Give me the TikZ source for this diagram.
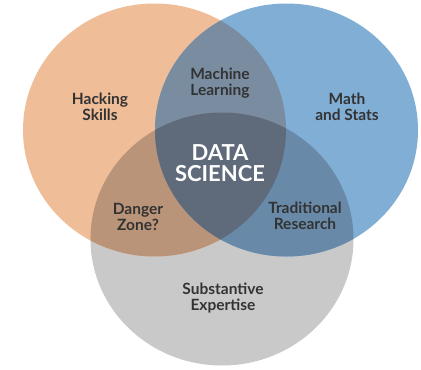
\documentclass[tikz,border=0pt]{standalone}
\usepackage{fontspec}
\setmainfont{Lato}
\usetikzlibrary{positioning}

\definecolor{hackcol}{HTML}{EFBD98}
\definecolor{mathcol}{HTML}{80AED5}
\definecolor{subcol}{HTML}{C9C9C9}
\definecolor{mlcol}{HTML}{7A8CA0}
\definecolor{dangercol}{HTML}{B99479}
\definecolor{tradcol}{HTML}{6889A8}
\definecolor{dscol}{HTML}{5F6B7A}
\definecolor{txtcol}{HTML}{333333}

\newcommand{\hackset}{(154.5,130) ellipse [x radius=131.5, y radius=126.5]}
\newcommand{\mathset}{(286.5,130) ellipse [x radius=131.5, y radius=126.5]}
\newcommand{\expset}{(222,239) ellipse [x radius=131.5, y radius=126.5]}

\begin{document}
\begin{tikzpicture}[x=1pt, y=-1pt,
    lbl/.style={%
      font=\bfseries\fontsize{15.5}{15.5}\selectfont, text=txtcol,
      align=center, inner sep=0pt
    },
    big/.style={%
      font=\bfseries\fontsize{22}{20.5}\selectfont, text=white,
      align=center, inner sep=0pt
    }
]
    \useasboundingbox (0,0) rectangle (421,370);
    \fill[white] (0,0) rectangle (421,370);

    % the three sets
    \fill[subcol]  \expset;
    \fill[hackcol] \hackset;
    \fill[mathcol] \mathset;

    % pairwise overlaps
    \begin{scope}
      \clip \hackset;
      \fill[mlcol] \mathset;
      \fill[dangercol] \expset;
    \end{scope}
    \begin{scope}
      \clip \mathset;
      \fill[tradcol] \expset;
    \end{scope}

    % all three
    \begin{scope}
      \clip \hackset;
      \clip \mathset;
      \fill[dscol] \expset;
    \end{scope}

    \node[lbl] (hacking) at (100,107) {Hacking\\Skills};
    \node[lbl] (machine) at (220,83)  {Machine\\Learning};
    \node[lbl] (math)    at (347,107) {Math\\and Stats};
    \node[big] (datasci) at (220,163) {DATA\\SCIENCE};
    \node[lbl] (danger)  at (138,217) {Danger\\Zone?};
    \node[lbl] (trad)    at (305,216) {Traditional\\Research};
    \node[lbl] (subst)   at (223,298) {Substantive\\Expertise};

  \end{tikzpicture}
\end{document}
